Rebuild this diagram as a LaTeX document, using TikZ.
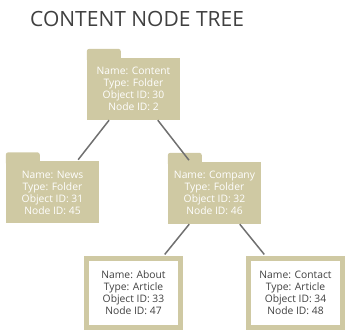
\documentclass[tikz,border=0pt]{standalone}
\usepackage{fontspec}
\setmainfont{Open Sans}
\definecolor{khaki}{RGB}{207,201,163}
\definecolor{ink}{RGB}{64,64,64}
\definecolor{edgegray}{RGB}{112,112,112}

\begin{document}
\begin{tikzpicture}[
    x=1pt, y=1pt,
    font=\fontsize{10.3}{12}\selectfont,
    folder/.style={fill=khaki, text=white, align=center, inner sep=2pt,
      minimum width=93pt, minimum height=62pt},
    tab/.style={fill=khaki, rounded corners=2.5pt},
    article/.style={draw=khaki, line width=5pt, fill=white, text=ink,
      align=center, inner sep=2pt, minimum width=94pt, minimum height=69pt},
    link/.style={draw=edgegray, line width=1.5pt, shorten >=2pt}
  ]
  \useasboundingbox (0,0) rectangle (350,336);
  %---- title ----
  \node[anchor=base west, inner sep=0pt, text=ink, font=\fontsize{21}{24}\selectfont]
    (title) at (30,309) {CONTENT NODE TREE};
  %---- folders ----
  \node[folder] (content) at (133.5,247)
    {Name: Content\\Type: Folder\\Object ID: 30\\Node ID: 2};
  \node[folder] (news) at (52.5,143.5)
    {Name: News\\Type: Folder\\Object ID: 31\\Node ID: 45};
  \node[folder] (company) at (214.5,143)
    {Name: Company\\Type: Folder\\Object ID: 32\\Node ID: 46};
  \foreach \f in {content,news,company}
    \fill[tab] ([yshift=-4pt]\f.north west) rectangle ++(34,13);
  %---- articles ----
  \node[article] (about) at (133.5,43)
    {Name: About\\Type: Article\\Object ID: 33\\Node ID: 47};
  \node[article] (contact) at (295.5,43)
    {Name: Contact\\Type: Article\\Object ID: 34\\Node ID: 48};
  %---- links ----
  \draw[link] (content) -- (news);
  \draw[link] (content) -- (company);
  \draw[link] (company) -- (about);
  \draw[link] (company) -- (contact);
\end{tikzpicture}
\end{document}
